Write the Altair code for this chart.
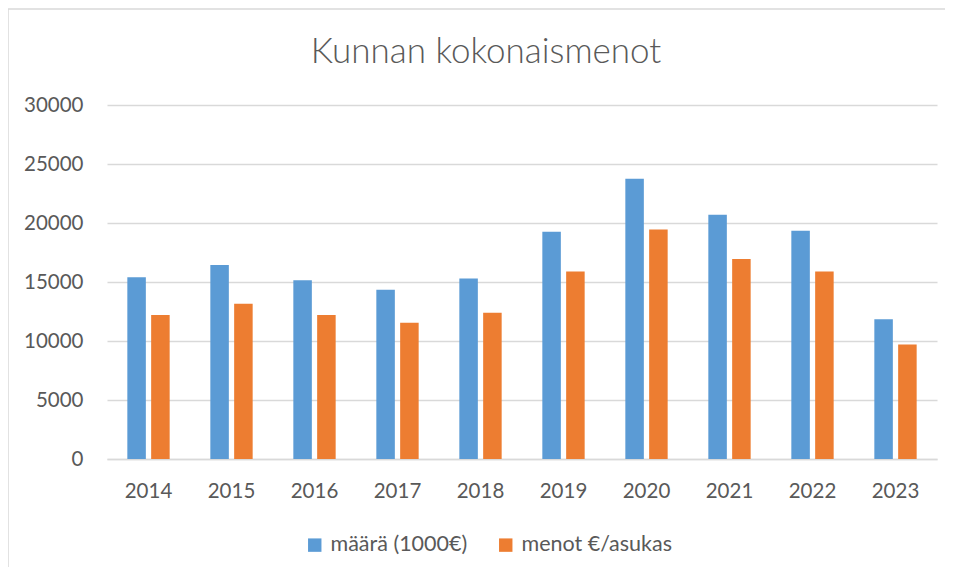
import altair as alt
import pandas as pd

years = ["2014", "2015", "2016", "2017", "2018", "2019", "2020", "2021", "2022", "2023"]
maara = [15400, 16450, 15150, 14350, 15300, 19250, 23750, 20700, 19350, 11850]
menot = [12200, 13150, 12200, 11550, 12400, 15900, 19450, 16950, 15900, 9700]
series = ["määrä (1000€)", "menot €/asukas"]
colors = ["#5B9BD5", "#ED7D31"]
y_ticks = [0, 5000, 10000, 15000, 20000, 25000, 30000]
title_text = ["Kunnan kokonaismenot"]

rows = []
for i, y in enumerate(years):
    rows.append({"vuosi": y, "sarja": series[0], "arvo": maara[i]})
    rows.append({"vuosi": y, "sarja": series[1], "arvo": menot[i]})
df = pd.DataFrame(rows)

FONT = "Lato"
GRAY = "#595959"
LINE = "#d9d9d9"

bars = alt.Chart(df).mark_bar().encode(
    x=alt.X("vuosi:N", sort=years,
            scale=alt.Scale(paddingInner=0.49, paddingOuter=0.245),
            axis=alt.Axis(title=None, labelAngle=0, ticks=False, domain=True,
                          domainColor=LINE, domainWidth=1.5, labelFontSize=20.5,
                          labelColor=GRAY, labelFont=FONT, labelPadding=22)),
    xOffset=alt.XOffset("sarja:N", sort=series,
                        scale=alt.Scale(paddingInner=0.223, paddingOuter=0)),
    y=alt.Y("arvo:Q", scale=alt.Scale(domain=[0, 30000]),
            axis=alt.Axis(title=None, values=y_ticks, format="d", ticks=False,
                          domain=False, gridColor=LINE, gridWidth=1.5,
                          labelFontSize=20.5, labelColor=GRAY, labelFont=FONT,
                          labelPadding=24)),
    color=alt.Color("sarja:N", sort=series,
                    scale=alt.Scale(domain=series, range=colors),
                    legend=alt.Legend(title=None, orient="none", direction="horizontal",
                                      legendX=197, legendY=429, symbolType="square",
                                      symbolSize=180, symbolStrokeWidth=0,
                                      labelFontSize=21.5, labelColor=GRAY, labelFont=FONT,
                                      columnPadding=27, labelOffset=5)),
)

border = alt.Chart(alt.Data(values=[{}])).mark_rect(
    fill=None, stroke=LINE, strokeWidth=1.5
).encode(
    x=alt.value(-99), x2=alt.value(1000), y=alt.value(-96), y2=alt.value(700)
)

title = alt.Chart(alt.Data(values=[{"t": t} for t in title_text])).mark_text(
    font=FONT, fontSize=35, fontWeight=300, color=GRAY, align="center",
    baseline="alphabetic"
).encode(
    text="t:N", x=alt.value(379), y=alt.value(-42)
)

chart = alt.layer(border, bars, title).properties(
    width=830, height=354,
    autosize=alt.AutoSizeParams(type="none"),
    padding={"left": 99, "top": 97, "right": 8, "bottom": 108},
).configure_view(stroke=None)

chart.save("out.html", embed_options={"renderer": "svg", "actions": False})
